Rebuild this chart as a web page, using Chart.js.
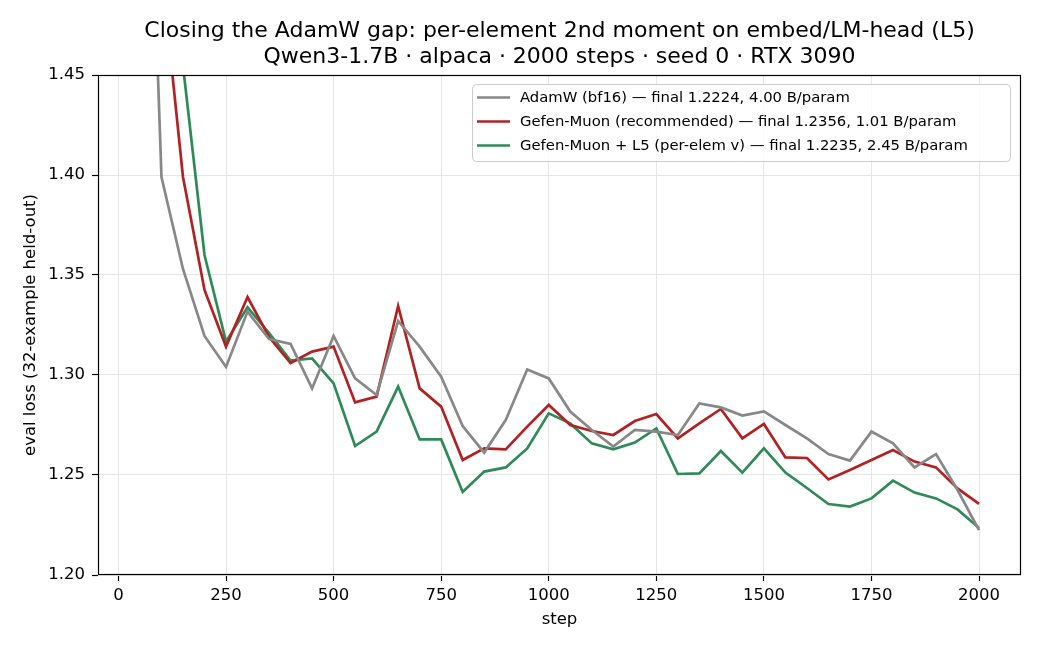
<!DOCTYPE html>
<html>
<head>
<meta charset="utf-8">
<script src="https://cdn.jsdelivr.net/npm/chart.js@4.4.1/dist/chart.umd.min.js"></script>
<style>
  html, body { margin: 0; padding: 0; background: #ffffff; }
  canvas { display: block; }
</style>
</head>
<body>
<canvas id="c" width="1040" height="650"></canvas>
<script>
const steps = [50, 100, 150, 200, 250, 300, 350, 400, 450, 500,
  550, 600, 650, 700, 750, 800, 850, 900, 950, 1000,
  1050, 1100, 1150, 1200, 1250, 1300, 1350, 1400, 1450, 1500,
  1550, 1600, 1650, 1700, 1750, 1800, 1850, 1900, 1950, 2000];

const adamw = [1.710, 1.399, 1.353, 1.3195, 1.304, 1.3317, 1.318, 1.3155, 1.2933, 1.3195,
  1.2983, 1.290, 1.327, 1.3142, 1.2992, 1.2745, 1.2612, 1.2775, 1.3028, 1.2983,
  1.2817, 1.2725, 1.2642, 1.2725, 1.2717, 1.270, 1.2858, 1.2838, 1.2797, 1.2818,
  1.275, 1.2683, 1.2605, 1.2572, 1.2717, 1.2658, 1.2538, 1.2605, 1.2425, 1.2224];

const gefen = [1.850, 1.503, 1.399, 1.3425, 1.3142, 1.339, 1.319, 1.306, 1.3117, 1.3142,
  1.2863, 1.2892, 1.3345, 1.2933, 1.2842, 1.2575, 1.2633, 1.2628, 1.2742, 1.285,
  1.275, 1.272, 1.270, 1.277, 1.2805, 1.2683, 1.2758, 1.283, 1.2683, 1.2755,
  1.2588, 1.2585, 1.2478, 1.2525, 1.2575, 1.2625, 1.2567, 1.2538, 1.2433, 1.2356];

const gefenL5 = [1.900, 1.620, 1.4547, 1.360, 1.3167, 1.3338, 1.321, 1.3072, 1.3083, 1.2958,
  1.2645, 1.2717, 1.2942, 1.2678, 1.2678, 1.2415, 1.2517, 1.2538, 1.2633, 1.2808,
  1.2758, 1.2658, 1.2628, 1.2662, 1.2733, 1.2505, 1.2508, 1.262, 1.2512, 1.2633,
  1.2512, 1.2435, 1.2355, 1.2342, 1.2383, 1.2472, 1.2412, 1.2383, 1.2328, 1.2235];

const seriesLabels = [
  'AdamW (bf16) \u2014 final 1.2224, 4.00 B/param',
  'Gefen-Muon (recommended) \u2014 final 1.2356, 1.01 B/param',
  'Gefen-Muon + L5 (per-elem v) \u2014 final 1.2235, 2.45 B/param'
];
const seriesColors = ['#888888', '#b22222', '#2e8b57'];

const xTicks = [0, 250, 500, 750, 1000, 1250, 1500, 1750, 2000];
const xTickLabels = ['0', '250', '500', '750', '1000', '1250', '1500', '1750', '2000'];
const yTicks = [1.20, 1.25, 1.30, 1.35, 1.40, 1.45];
const yTickLabels = ['1.20', '1.25', '1.30', '1.35', '1.40', '1.45'];

const titleLines = [
  'Closing the AdamW gap: per-element 2nd moment on embed/LM-head (L5)',
  'Qwen3-1.7B \u00b7 alpaca \u00b7 2000 steps \u00b7 seed 0 \u00b7 RTX 3090'
];
const xLabel = 'step';
const yLabel = 'eval loss (32-example held-out)';

const FONT = "'DejaVu Sans', sans-serif";
const LW = 2.7;

function pts(vals) { return steps.map((s, i) => ({ x: s, y: vals[i] })); }
const allSeries = [adamw, gefen, gefenL5];

const frameLegend = {
  id: 'frameLegend',
  afterDatasetsDraw(chart) {
    const { ctx, chartArea: a } = chart;
    ctx.save();
    ctx.strokeStyle = '#000';
    ctx.lineWidth = 1.2;
    ctx.strokeRect(Math.round(a.left) + 0.5, Math.round(a.top) + 0.5,
      Math.round(a.right - a.left) - 1, Math.round(a.bottom - a.top) - 1);
    ctx.restore();
  },
  afterDraw(chart) {
    const { ctx } = chart;
    const bx = 472.5, by = 84.5, bw = 538, bh = 77, r = 4;
    ctx.save();
    ctx.beginPath();
    ctx.moveTo(bx + r, by);
    ctx.lineTo(bx + bw - r, by);
    ctx.arcTo(bx + bw, by, bx + bw, by + r, r);
    ctx.lineTo(bx + bw, by + bh - r);
    ctx.arcTo(bx + bw, by + bh, bx + bw - r, by + bh, r);
    ctx.lineTo(bx + r, by + bh);
    ctx.arcTo(bx, by + bh, bx, by + bh - r, r);
    ctx.lineTo(bx, by + r);
    ctx.arcTo(bx, by, bx + r, by, r);
    ctx.closePath();
    ctx.fillStyle = 'rgba(255,255,255,0.8)';
    ctx.fill();
    ctx.strokeStyle = '#cccccc';
    ctx.lineWidth = 1;
    ctx.stroke();
    ctx.font = '14.8px ' + FONT;
    ctx.textBaseline = 'middle';
    ctx.textAlign = 'left';
    chart.data.datasets.forEach((ds, i) => {
      const y = 97.5 + i * 24;
      ctx.strokeStyle = ds.borderColor;
      ctx.lineWidth = LW;
      ctx.beginPath();
      ctx.moveTo(477, y);
      ctx.lineTo(510, y);
      ctx.stroke();
      ctx.fillStyle = '#000';
      ctx.fillText(ds.label, 520, y + 0.5);
    });
    ctx.restore();
  }
};

new Chart(document.getElementById('c'), {
  type: 'line',
  data: {
    datasets: allSeries.map((vals, i) => ({
      label: seriesLabels[i],
      data: pts(vals),
      borderColor: seriesColors[i],
      backgroundColor: seriesColors[i],
      borderWidth: LW,
      pointRadius: 0,
      tension: 0,
      fill: false
    }))
  },
  options: {
    responsive: false,
    animation: false,
    devicePixelRatio: 1,
    layout: { padding: { left: 0, right: 19, top: 0, bottom: 0 } },
    plugins: {
      legend: { display: false },
      tooltip: { enabled: false },
      title: {
        display: true,
        fullSize: false,
        text: titleLines,
        color: '#000',
        font: { family: FONT, size: 22, weight: 'normal', lineHeight: 1.2 },
        padding: { top: 18, bottom: 4.2 }
      }
    },
    scales: {
      x: {
        type: 'linear',
        min: -47.5,
        max: 2097.5,
        afterBuildTicks(scale) { scale.ticks = xTicks.map(v => ({ value: v })); },
        afterFit(scale) { scale.height = 75; },
        ticks: {
          autoSkip: false,
          maxRotation: 0,
          color: '#000',
          font: { family: FONT, size: 16.5 },
          padding: 5,
          callback: (v, i) => xTickLabels[i]
        },
        grid: { color: '#e6e6e6', lineWidth: 1, tickColor: '#000', tickLength: 6, tickWidth: 1.2 },
        border: { display: false },
        title: {
          display: true, text: xLabel, color: '#000',
          font: { family: FONT, size: 16.5 },
          padding: { top: 0, bottom: 20 }
        }
      },
      y: {
        type: 'linear',
        min: 1.20,
        max: 1.45,
        afterBuildTicks(scale) { scale.ticks = yTicks.map(v => ({ value: v })); },
        afterFit(scale) { scale.width = 98; },
        ticks: {
          color: '#000',
          font: { family: FONT, size: 16.5 },
          padding: 7,
          callback: (v, i) => yTickLabels[i]
        },
        grid: { color: '#e6e6e6', lineWidth: 1, tickColor: '#000', tickLength: 6, tickWidth: 1.2 },
        border: { display: false },
        title: {
          display: true, text: yLabel, color: '#000',
          font: { family: FONT, size: 16.5 },
          padding: { top: 21, bottom: 0 }
        }
      }
    }
  },
  plugins: [frameLegend]
});
</script>
</body>
</html>
